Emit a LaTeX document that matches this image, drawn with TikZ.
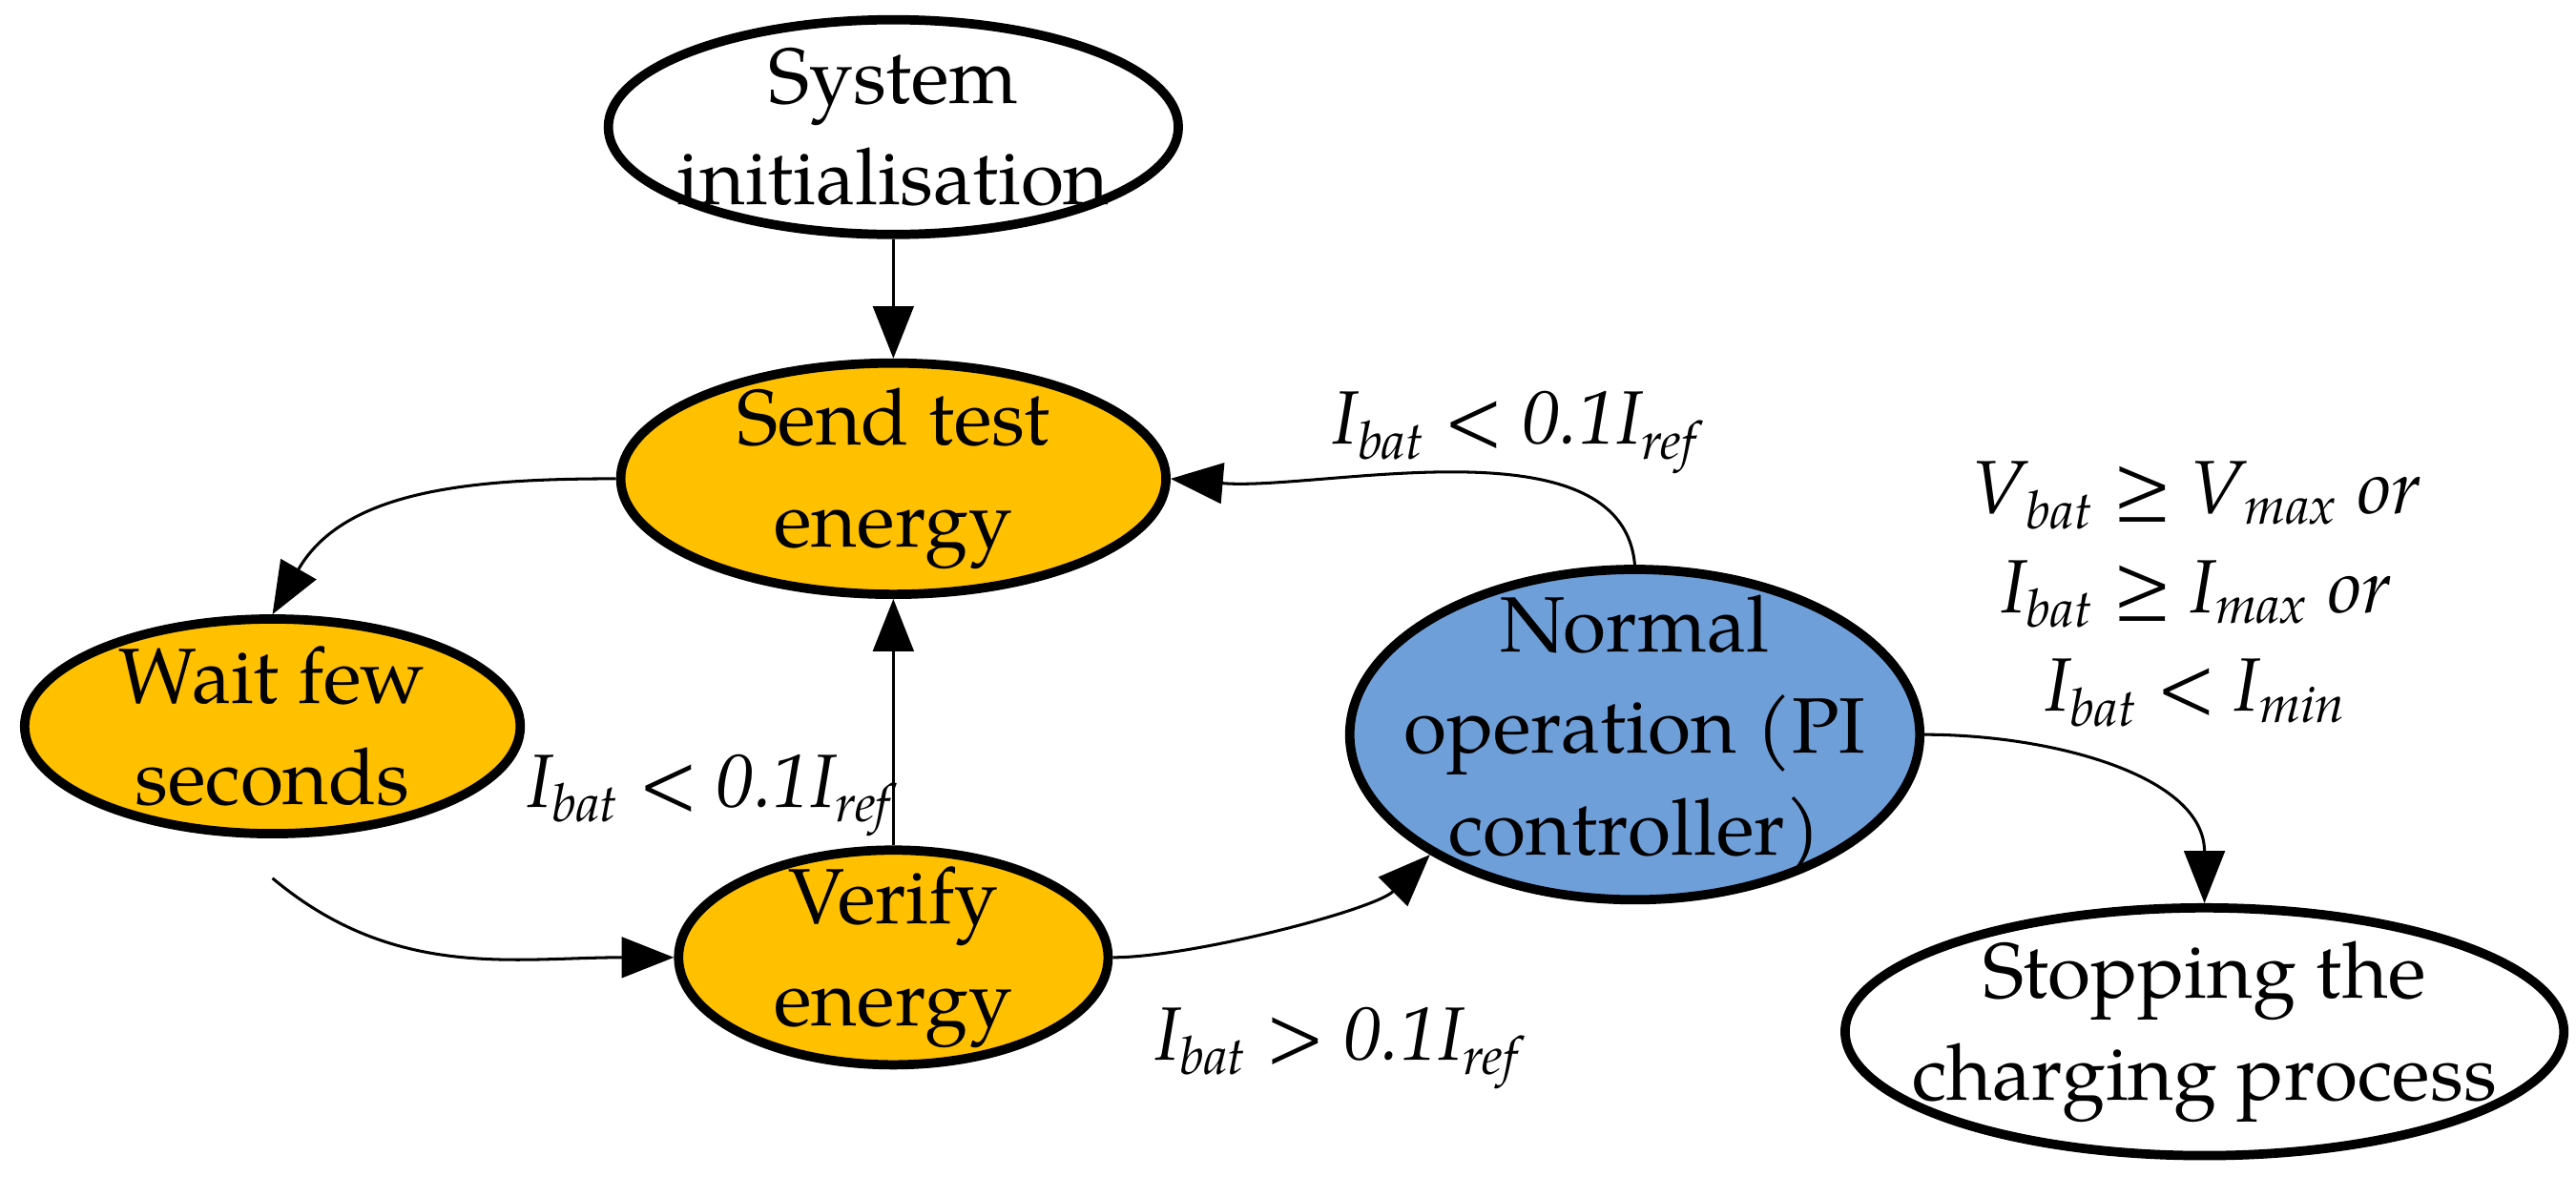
\documentclass[tikz,border=0pt]{standalone}
\usepackage{fontspec}
\setmainfont{TeX Gyre Pagella}
\usetikzlibrary{shapes.geometric,arrows.meta}
\definecolor{org}{HTML}{FFC000}
\definecolor{blu}{HTML}{6F9FD8}
\newcommand{\qq}[2]{#1\textsubscript{#2}}
\begin{document}
\begin{tikzpicture}[x=0.01cm,y=-0.01cm,
 st/.style={ellipse,draw,line width=1.6pt,inner sep=0pt},
 tx/.style={align=center,font=\fontsize{13.5}{17.5}\selectfont},
 ar/.style={-{Triangle[length=9pt,width=7pt]},line width=0.5pt},
 lb/.style={font=\fontsize{13}{17}\selectfont\itshape,align=center}]
\useasboundingbox (0,0) rectangle (1560,725);
\node[st,minimum width=3.45cm,minimum height=1.3cm] (sys) at (541,77) {};
\node[tx] (sysT) at (sys) {System\\initialisation};
\node[st,fill=org,minimum width=3.3cm,minimum height=1.4cm] (send) at (541,290) {};
\node[tx] (sendT) at (send) {Send test\\energy};
\node[st,fill=org,minimum width=3.0cm,minimum height=1.3cm] (wait) at (165,440) {};
\node[tx] (waitT) at (wait) {Wait few\\seconds};
\node[st,fill=org,minimum width=2.6cm,minimum height=1.3cm] (ver) at (541,580) {};
\node[tx] (verT) at (ver) {Verify\\energy};
\node[st,fill=blu,minimum width=3.45cm,minimum height=2.0cm] (norm) at (990,445) {};
\node[tx] (normT) at (norm) {Normal\\operation (PI\\controller)};
\node[st,minimum width=4.35cm,minimum height=1.5cm] (stop) at (1335,625) {};
\node[tx] (stopT) at (stop) {Stopping the\\charging process};
\draw[ar] (sys) -- (send);
\draw[ar] (send.west) to[out=180,in=60] (wait.north);
\coordinate (wb) at (165,532);
\draw[ar] (wb) to[out=-40,in=180] (ver.west);
\draw[ar] (ver) -- (send);
\draw[ar] (ver.east) to[out=0,in=-135,looseness=0.6] (norm.south west);
\draw[ar] (norm.north) to[out=95,in=-5,looseness=0.8] (send.east);
\draw[ar] (norm.east) to[out=0,in=90] (stop.north);
\node[lb] (l1) at (430,482) {\qq{I}{bat} < 0.1\qq{I}{ref}};
\node[lb] (l2) at (810,635) {\qq{I}{bat} > 0.1\qq{I}{ref}};
\node[lb] (l3) at (918,262) {\qq{I}{bat} < 0.1\qq{I}{ref}};
\node[lb] (l4) at (1330,360) {\qq{V}{bat} ≥ \qq{V}{max} or\\\qq{I}{bat} ≥ \qq{I}{max} or\\\qq{I}{bat} < \qq{I}{min}};
\end{tikzpicture}
\end{document}
